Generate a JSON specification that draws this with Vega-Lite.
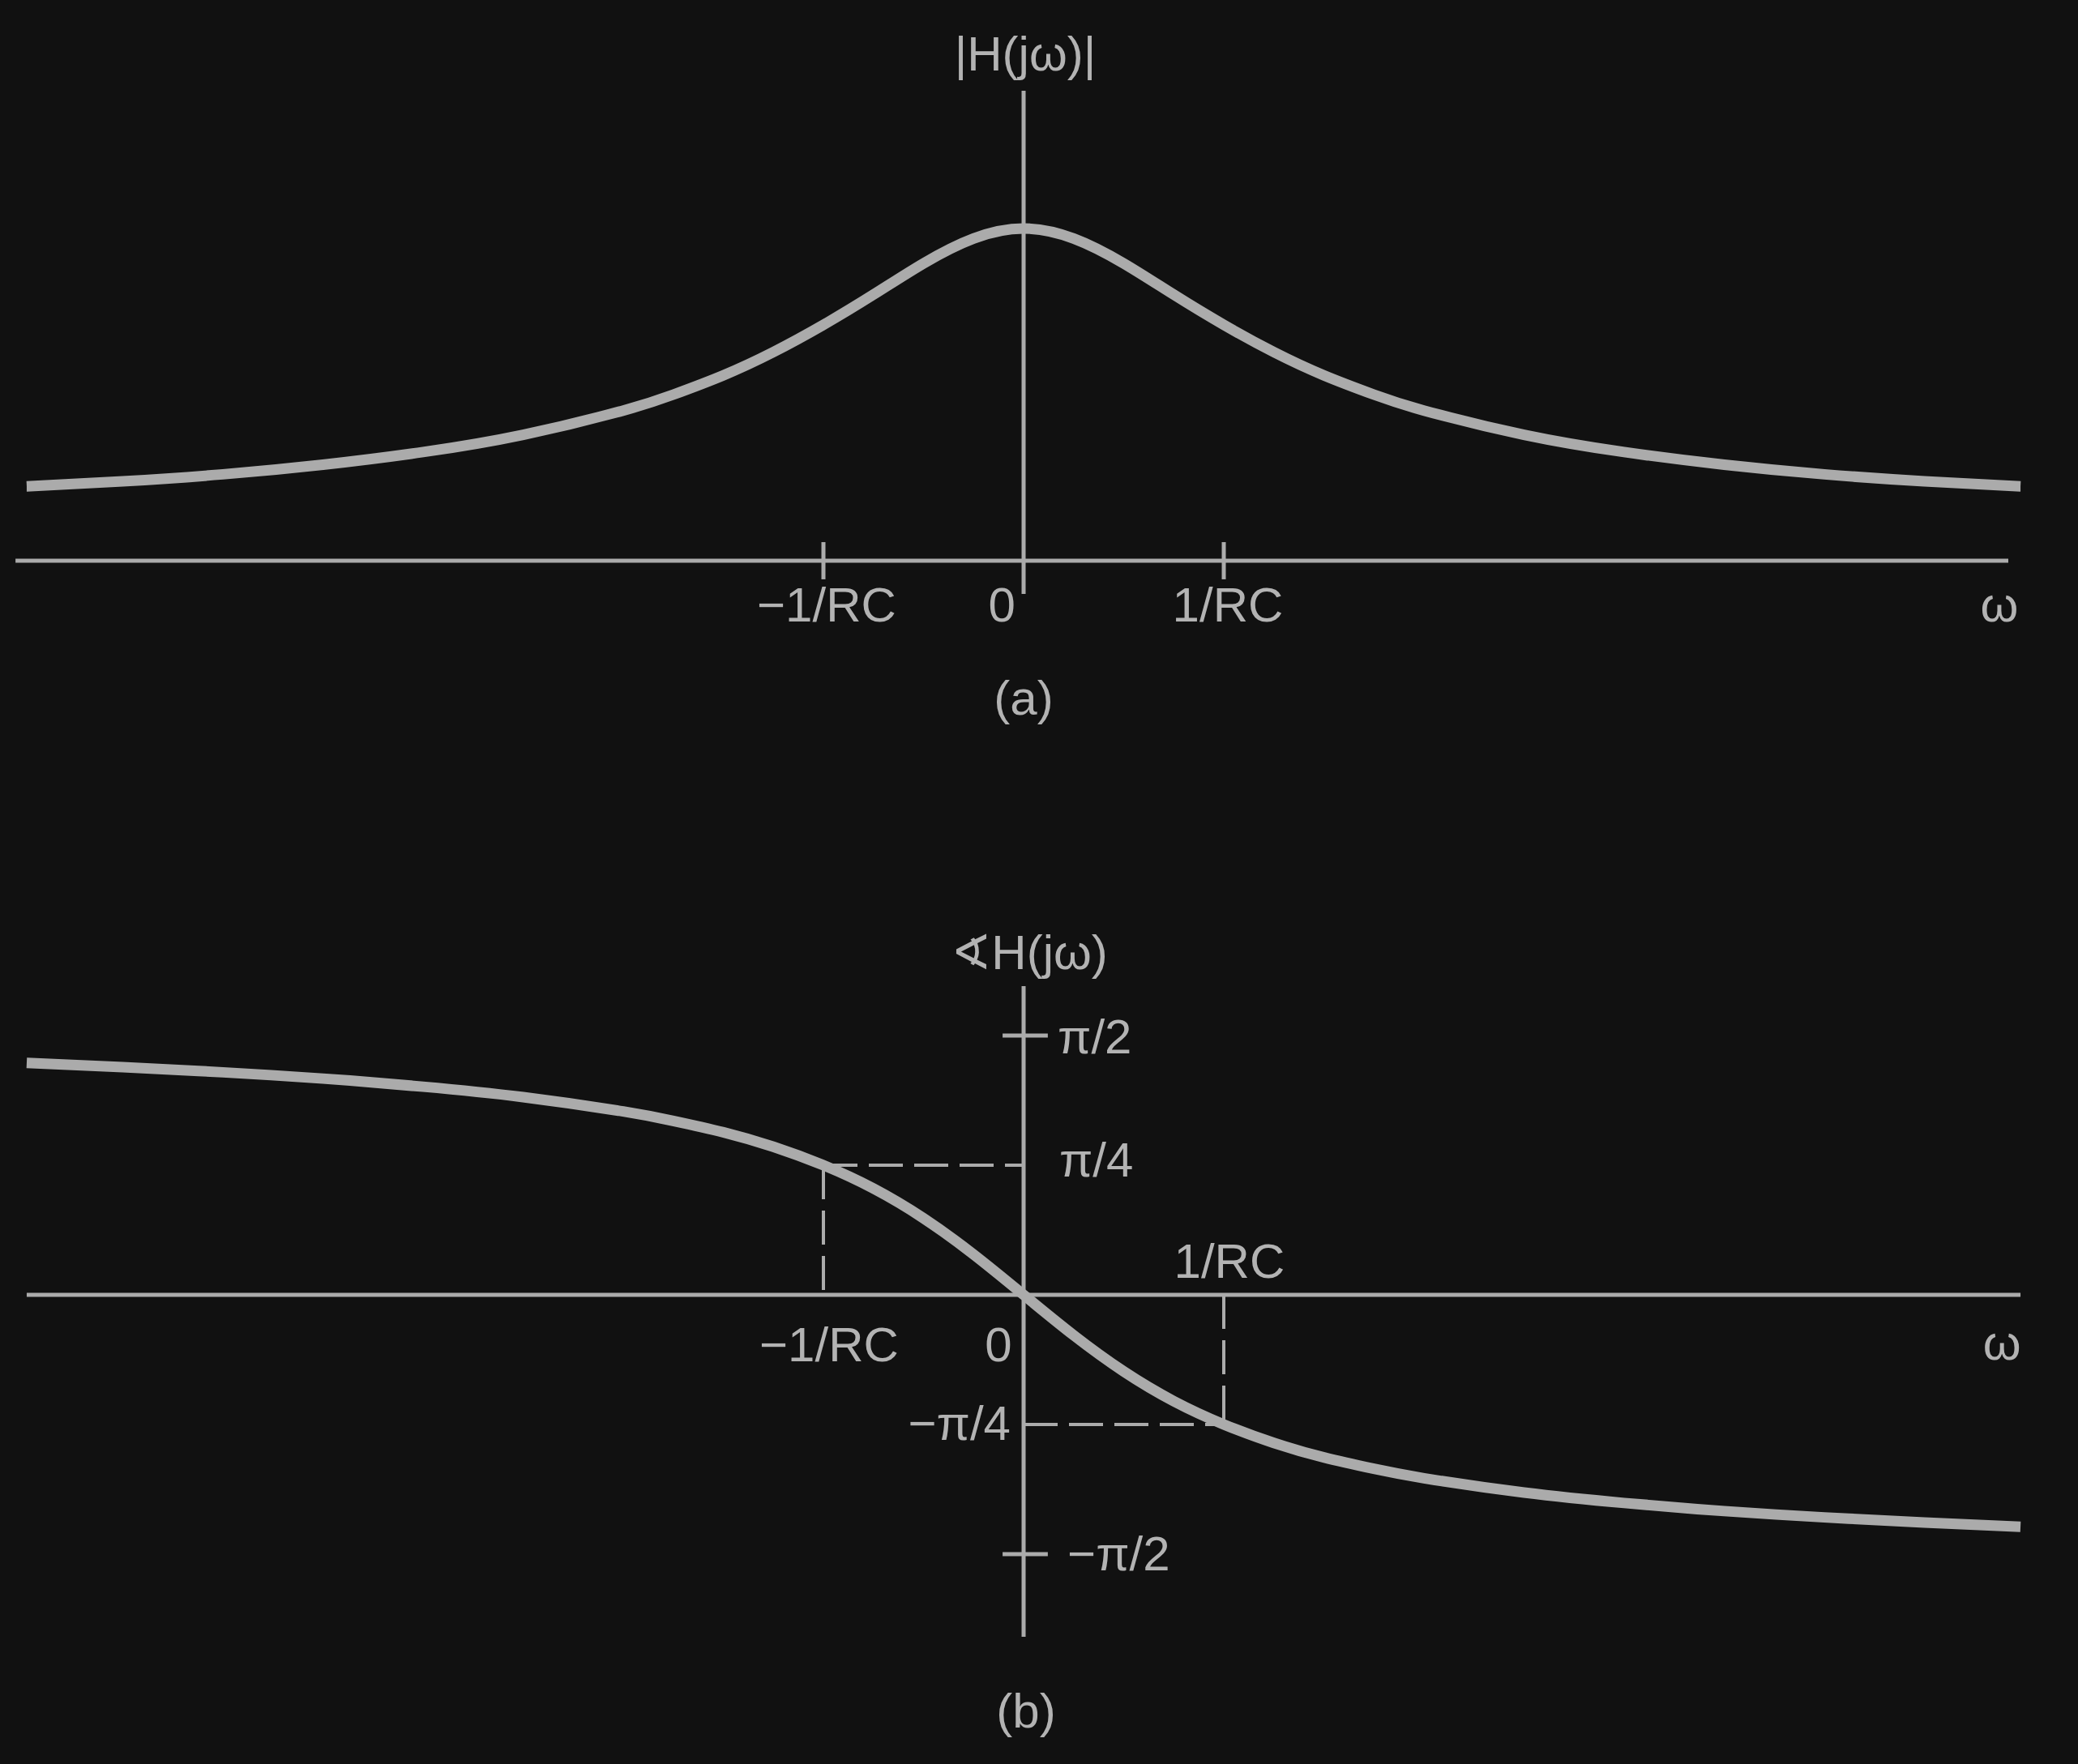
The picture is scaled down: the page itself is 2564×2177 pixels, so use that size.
{
  "$schema": "https://vega.github.io/schema/vega-lite/v6.json",
  "background": "#111111",
  "padding": 0,
  "spacing": 0,
  "config": {
    "view": {"stroke": null},
    "concat": {"spacing": 0},
    "text": {"font": "Liberation Sans, DejaVu Sans", "fontSize": 60, "color": "#b3b3b3", "baseline": "alphabetic"}
  },
  "datasets": {
    "curveA": [
      {"omega": -4.98, "mag": 0.224},
      {"omega": -4.5, "mag": 0.239},
      {"omega": -4.0, "mag": 0.260},
      {"omega": -3.5, "mag": 0.289},
      {"omega": -3.0, "mag": 0.327},
      {"omega": -2.5, "mag": 0.379},
      {"omega": -2.0, "mag": 0.452},
      {"omega": -1.75, "mag": 0.500},
      {"omega": -1.5, "mag": 0.558},
      {"omega": -1.25, "mag": 0.628},
      {"omega": -1.0, "mag": 0.710},
      {"omega": -0.75, "mag": 0.801},
      {"omega": -0.5, "mag": 0.895},
      {"omega": -0.25, "mag": 0.970},
      {"omega": 0.0, "mag": 1.0},
      {"omega": 0.25, "mag": 0.970},
      {"omega": 0.5, "mag": 0.895},
      {"omega": 0.75, "mag": 0.801},
      {"omega": 1.0, "mag": 0.710},
      {"omega": 1.25, "mag": 0.628},
      {"omega": 1.5, "mag": 0.558},
      {"omega": 1.75, "mag": 0.500},
      {"omega": 2.0, "mag": 0.452},
      {"omega": 2.5, "mag": 0.379},
      {"omega": 3.0, "mag": 0.327},
      {"omega": 3.5, "mag": 0.289},
      {"omega": 4.0, "mag": 0.260},
      {"omega": 4.5, "mag": 0.239},
      {"omega": 4.98, "mag": 0.224}
    ],
    "curveB": [
      {"omega": -4.98, "phase": 1.405},
      {"omega": -4.5, "phase": 1.379},
      {"omega": -4.0, "phase": 1.348},
      {"omega": -3.5, "phase": 1.310},
      {"omega": -3.0, "phase": 1.261},
      {"omega": -2.5, "phase": 1.198},
      {"omega": -2.0, "phase": 1.111},
      {"omega": -1.75, "phase": 1.054},
      {"omega": -1.5, "phase": 0.985},
      {"omega": -1.25, "phase": 0.897},
      {"omega": -1.0, "phase": 0.785},
      {"omega": -0.75, "phase": 0.644},
      {"omega": -0.5, "phase": 0.464},
      {"omega": -0.25, "phase": 0.245},
      {"omega": 0.0, "phase": 0.0},
      {"omega": 0.25, "phase": -0.245},
      {"omega": 0.5, "phase": -0.464},
      {"omega": 0.75, "phase": -0.644},
      {"omega": 1.0, "phase": -0.785},
      {"omega": 1.25, "phase": -0.897},
      {"omega": 1.5, "phase": -0.985},
      {"omega": 1.75, "phase": -1.054},
      {"omega": 2.0, "phase": -1.111},
      {"omega": 2.5, "phase": -1.198},
      {"omega": 3.0, "phase": -1.261},
      {"omega": 3.5, "phase": -1.310},
      {"omega": 4.0, "phase": -1.348},
      {"omega": 4.5, "phase": -1.379},
      {"omega": 4.98, "phase": -1.405}
    ],
    "segA": [
      {"x1": -5.036, "x2": 4.919, "y1": 0, "y2": 0},
      {"x1": 0, "x2": 0, "y1": -0.1, "y2": 1.4146},
      {"x1": -1, "x2": -1, "y1": -0.056, "y2": 0.056},
      {"x1": 1, "x2": 1, "y1": -0.056, "y2": 0.056}
    ],
    "segB": [
      {"x1": -4.98, "x2": 4.98, "y1": 0, "y2": 0},
      {"x1": 0, "x2": 0, "y1": -2.0715, "y2": 1.87},
      {"x1": -0.105, "x2": 0.121, "y1": 1.5708, "y2": 1.5708},
      {"x1": -0.105, "x2": 0.121, "y1": -1.5708, "y2": -1.5708}
    ],
    "dashB": [
      {"x1": -1, "x2": 0, "y1": 0.7854, "y2": 0.7854},
      {"x1": -1, "x2": -1, "y1": 0.7854, "y2": 0},
      {"x1": 0, "x2": 1, "y1": -0.7854, "y2": -0.7854},
      {"x1": 1, "x2": 1, "y1": 0, "y2": -0.7854}
    ],
    "labelsA": [
      {"omega": 0.008, "val": 1.4756, "text": "|H(jω)|"},
      {"omega": -0.984, "val": -0.183, "text": "−1/RC"},
      {"omega": -0.109, "val": -0.183, "text": "0"},
      {"omega": 1.02, "val": -0.183, "text": "1/RC"},
      {"omega": 4.874, "val": -0.183, "text": "ω"},
      {"omega": 0.0, "val": -0.4634, "text": "(a)"}
    ],
    "labelsBc": [
      {"omega": 0.028, "val": 1.9733, "text": "∢H(jω)"},
      {"omega": 1.028, "val": 0.1031, "text": "1/RC"},
      {"omega": -0.972, "val": -0.4025, "text": "−1/RC"},
      {"omega": -0.1255, "val": -0.4025, "text": "0"},
      {"omega": 4.887, "val": -0.3927, "text": "ω"},
      {"omega": 0.012, "val": -2.6212, "text": "(b)"}
    ],
    "labelsBl": [
      {"omega": 0.17, "val": 1.4628, "text": "π/2"},
      {"omega": 0.178, "val": 0.7167, "text": "π/4"},
      {"omega": 0.219, "val": -1.669, "text": "−π/2"}
    ],
    "labelsBr": [
      {"omega": -0.065, "val": -0.8787, "text": "−π/4"}
    ]
  },
  "vconcat": [
    {
      "width": 2564,
      "height": 1088,
      "layer": [
        {
          "data": {"name": "segA"},
          "mark": {"type": "rule", "color": "#ababab", "strokeWidth": 5},
          "encoding": {
            "x": {"field": "x1", "type": "quantitative", "scale": {"domain": [-5.1134, 5.2672], "nice": false, "zero": false}, "axis": null},
            "x2": {"field": "x2"},
            "y": {"field": "y1", "type": "quantitative", "scale": {"domain": [-0.9659, 1.6878], "nice": false, "zero": false}, "axis": null},
            "y2": {"field": "y2"}
          }
        },
        {
          "data": {"name": "curveA"},
          "mark": {"type": "line", "color": "#ababab", "strokeWidth": 13, "interpolate": "natural", "strokeCap": "butt"},
          "encoding": {
            "x": {"field": "omega", "type": "quantitative", "scale": {"domain": [-5.1134, 5.2672], "nice": false, "zero": false}, "axis": null},
            "y": {"field": "mag", "type": "quantitative", "scale": {"domain": [-0.9659, 1.6878], "nice": false, "zero": false}, "axis": null}
          }
        },
        {
          "data": {"name": "labelsA"},
          "mark": {"type": "text", "align": "center"},
          "encoding": {
            "x": {"field": "omega", "type": "quantitative", "scale": {"domain": [-5.1134, 5.2672], "nice": false, "zero": false}, "axis": null},
            "y": {"field": "val", "type": "quantitative", "scale": {"domain": [-0.9659, 1.6878], "nice": false, "zero": false}, "axis": null},
            "text": {"field": "text"}
          }
        }
      ]
    },
    {
      "width": 2564,
      "height": 1089,
      "layer": [
        {
          "data": {"name": "segB"},
          "mark": {"type": "rule", "color": "#ababab", "strokeWidth": 5},
          "encoding": {
            "x": {"field": "x1", "type": "quantitative", "scale": {"domain": [-5.1134, 5.2672], "nice": false, "zero": false}, "axis": null},
            "x2": {"field": "x2"},
            "y": {"field": "y1", "type": "quantitative", "scale": {"domain": [-2.8421, 2.5034], "nice": false, "zero": false}, "axis": null},
            "y2": {"field": "y2"}
          }
        },
        {
          "data": {"name": "dashB"},
          "mark": {"type": "rule", "color": "#ababab", "strokeWidth": 4, "strokeDash": [42, 14]},
          "encoding": {
            "x": {"field": "x1", "type": "quantitative", "scale": {"domain": [-5.1134, 5.2672], "nice": false, "zero": false}, "axis": null},
            "x2": {"field": "x2"},
            "y": {"field": "y1", "type": "quantitative", "scale": {"domain": [-2.8421, 2.5034], "nice": false, "zero": false}, "axis": null},
            "y2": {"field": "y2"}
          }
        },
        {
          "data": {"name": "curveB"},
          "mark": {"type": "line", "color": "#ababab", "strokeWidth": 13, "interpolate": "natural", "strokeCap": "butt"},
          "encoding": {
            "x": {"field": "omega", "type": "quantitative", "scale": {"domain": [-5.1134, 5.2672], "nice": false, "zero": false}, "axis": null},
            "y": {"field": "phase", "type": "quantitative", "scale": {"domain": [-2.8421, 2.5034], "nice": false, "zero": false}, "axis": null}
          }
        },
        {
          "data": {"name": "labelsBc"},
          "mark": {"type": "text", "align": "center"},
          "encoding": {
            "x": {"field": "omega", "type": "quantitative", "scale": {"domain": [-5.1134, 5.2672], "nice": false, "zero": false}, "axis": null},
            "y": {"field": "val", "type": "quantitative", "scale": {"domain": [-2.8421, 2.5034], "nice": false, "zero": false}, "axis": null},
            "text": {"field": "text"}
          }
        },
        {
          "data": {"name": "labelsBl"},
          "mark": {"type": "text", "align": "left"},
          "encoding": {
            "x": {"field": "omega", "type": "quantitative", "scale": {"domain": [-5.1134, 5.2672], "nice": false, "zero": false}, "axis": null},
            "y": {"field": "val", "type": "quantitative", "scale": {"domain": [-2.8421, 2.5034], "nice": false, "zero": false}, "axis": null},
            "text": {"field": "text"}
          }
        },
        {
          "data": {"name": "labelsBr"},
          "mark": {"type": "text", "align": "right"},
          "encoding": {
            "x": {"field": "omega", "type": "quantitative", "scale": {"domain": [-5.1134, 5.2672], "nice": false, "zero": false}, "axis": null},
            "y": {"field": "val", "type": "quantitative", "scale": {"domain": [-2.8421, 2.5034], "nice": false, "zero": false}, "axis": null},
            "text": {"field": "text"}
          }
        }
      ]
    }
  ]
}
